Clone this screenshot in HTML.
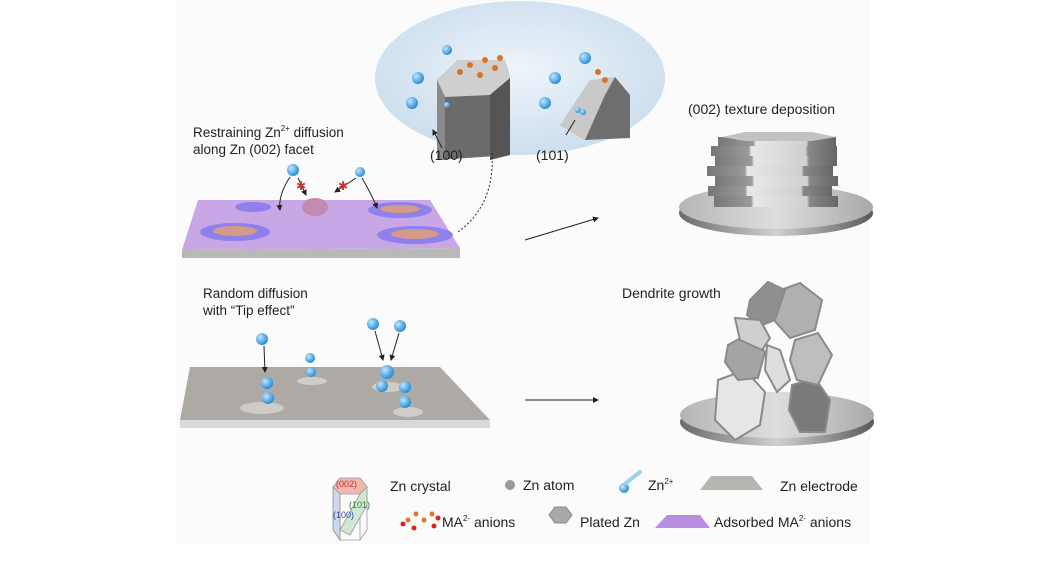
<!DOCTYPE html>
<html><head><meta charset="utf-8"><style>
html,body{margin:0;padding:0;background:#fff;}
svg{display:block;font-family:"Liberation Sans",Arial,sans-serif;}
</style></head><body>
<svg width="1053" height="562" viewBox="0 0 1053 562" xmlns="http://www.w3.org/2000/svg">
<defs>
<radialGradient id="ell" cx="50%" cy="45%" r="60%"><stop offset="0" stop-color="#eef4fa"/><stop offset="1" stop-color="#c9dcec"/></radialGradient>
<linearGradient id="disk" x1="0" x2="1"><stop offset="0" stop-color="#6a6a6a"/><stop offset="0.5" stop-color="#d0d0d0"/><stop offset="1" stop-color="#5a5a5a"/></linearGradient>
<linearGradient id="dtop" x1="0" x2="1"><stop offset="0" stop-color="#b5b5b5"/><stop offset="0.5" stop-color="#dedede"/><stop offset="1" stop-color="#a8a8a8"/></linearGradient>
<linearGradient id="hexs" x1="0" x2="1"><stop offset="0" stop-color="#777"/><stop offset="0.3" stop-color="#9a9a9a"/><stop offset="0.32" stop-color="#e8e8e8"/><stop offset="0.75" stop-color="#cfcfcf"/><stop offset="0.77" stop-color="#888"/><stop offset="1" stop-color="#666"/></linearGradient>
<radialGradient id="ball" cx="35%" cy="35%" r="65%"><stop offset="0" stop-color="#bfe6ff"/><stop offset="1" stop-color="#2a8fd6"/></radialGradient>
<marker id="ar" markerWidth="6" markerHeight="6" refX="5" refY="3" orient="auto"><path d="M0,0 L6,3 L0,6 z" fill="#222"/></marker>
</defs>
<rect x="175" y="0" width="695" height="545" fill="#fbfbfb"/>
<ellipse cx="520" cy="78" rx="145" ry="77" fill="url(#ell)"/>
<polygon points="437,80 458,60 505,60 510,78 510,155 437,160" fill="#6b6b6b"/>
<polygon points="437,80 458,60 505,60 510,78 490,95 445,97" fill="#cfcfcf"/>
<polygon points="490,95 510,78 510,155 490,160" fill="#555"/>
<polygon points="437,80 445,97 445,160 437,160" fill="#8a8a8a"/>
<polygon points="560,125 595,85 615,77 630,95 630,138 585,140" fill="#6e6e6e"/>
<polygon points="560,125 590,80 615,77 605,95 585,140" fill="#c9c9c9"/>
<g fill="#d8742a"><circle cx="470" cy="65" r="3"/><circle cx="485" cy="60" r="3"/><circle cx="495" cy="68" r="3"/><circle cx="460" cy="72" r="3"/><circle cx="480" cy="75" r="3"/><circle cx="500" cy="58" r="3"/><circle cx="598" cy="72" r="3"/><circle cx="605" cy="80" r="3"/></g>
<g fill="url(#ball)"><circle cx="447" cy="50" r="5"/><circle cx="418" cy="78" r="6"/><circle cx="412" cy="103" r="6"/><circle cx="585" cy="58" r="6"/><circle cx="555" cy="78" r="6"/><circle cx="545" cy="103" r="6"/><circle cx="447" cy="105" r="3"/><circle cx="578" cy="110" r="3"/><circle cx="583" cy="112" r="3"/></g>
<path d="M442,148 L433,130" stroke="#222" fill="none" marker-end="url(#ar)"/>
<path d="M566,135 L575,120" stroke="#222" fill="none"/>
<text x="430" y="160" font-size="14" fill="#222">(100)</text>
<text x="536" y="160" font-size="14" fill="#222">(101)</text>
<text x="193" y="137" font-size="13.5" fill="#222">Restraining Zn<tspan font-size="8" dy="-6">2+</tspan><tspan dy="6"> diffusion</tspan></text>
<text x="193" y="154" font-size="13.5" fill="#222">along Zn (002) facet</text>
<polygon points="198,200 430,200 460,248 182,250" fill="#c9a6e6"/>
<polygon points="182,250 460,248 460,258 182,258" fill="#b8b8b8"/>
<g fill="#8f80ec"><ellipse cx="253" cy="207" rx="18" ry="5"/><ellipse cx="400" cy="210" rx="32" ry="8"/><ellipse cx="235" cy="232" rx="35" ry="9"/><ellipse cx="415" cy="235" rx="38" ry="9"/></g>
<g fill="#d49a8a"><ellipse cx="400" cy="209" rx="20" ry="4"/><ellipse cx="235" cy="231" rx="22" ry="5"/><ellipse cx="415" cy="234" rx="24" ry="5"/></g>
<ellipse cx="315" cy="207" rx="13" ry="9" fill="#c38ab0"/>
<circle cx="293" cy="170" r="6" fill="url(#ball)"/><circle cx="360" cy="172" r="5" fill="url(#ball)"/>
<path d="M290,177 Q278,195 280,210" stroke="#222" fill="none" marker-end="url(#ar)"/>
<path d="M298,178 L306,195" stroke="#222" fill="none" marker-end="url(#ar)"/>
<path d="M356,178 L335,192" stroke="#222" fill="none" marker-end="url(#ar)"/>
<path d="M362,178 Q372,195 377,208" stroke="#222" fill="none" marker-end="url(#ar)"/>
<text x="296" y="190" font-size="12" fill="#c33">✱</text><text x="338" y="190" font-size="12" fill="#c33">✱</text>
<path d="M458,232 Q495,205 492,153" stroke="#222" fill="none" stroke-dasharray="2,2"/>
<path d="M525,240 L598,218" stroke="#222" fill="none" marker-end="url(#ar)"/>
<path d="M525,400 L598,400" stroke="#222" fill="none" marker-end="url(#ar)"/>
<!-- top right -->
<text x="688" y="114" font-size="14" fill="#222">(002) texture deposition</text>
<ellipse cx="776" cy="213" rx="97" ry="23" fill="url(#disk)"/>
<ellipse cx="776" cy="207" rx="97" ry="22" fill="url(#dtop)"/>
<g>
<rect x="714" y="196" width="124" height="11" fill="url(#hexs)"/>
<rect x="708" y="186" width="124" height="10" fill="url(#hexs)"/>
<rect x="715" y="176" width="123" height="10" fill="url(#hexs)"/>
<rect x="707" y="166" width="126" height="10" fill="url(#hexs)"/>
<rect x="715" y="156" width="122" height="10" fill="url(#hexs)"/>
<rect x="711" y="146" width="126" height="10" fill="url(#hexs)"/>
<rect x="718" y="137" width="118" height="9" fill="url(#hexs)"/>
</g>
<polygon points="722,137 745,132 812,132 836,137 812,141 745,141" fill="#c2c2c2"/>
<!-- bottom left slab -->
<text x="203" y="298" font-size="13.5" fill="#222">Random diffusion</text>
<text x="203" y="315" font-size="13.5" fill="#222">with “Tip effect”</text>
<polygon points="190,367 440,367 490,420 180,420" fill="#adaaa6"/>
<polygon points="180,420 490,420 490,428 180,428" fill="#d9d9d9"/>
<g fill="#cfcbc6"><ellipse cx="262" cy="408" rx="22" ry="6"/><ellipse cx="312" cy="381" rx="15" ry="4"/><ellipse cx="388" cy="387" rx="16" ry="5"/><ellipse cx="408" cy="412" rx="15" ry="5"/></g>
<g fill="url(#ball)"><circle cx="262" cy="339" r="6"/><circle cx="267" cy="383" r="6"/><circle cx="268" cy="398" r="6"/><circle cx="310" cy="358" r="5"/><circle cx="311" cy="372" r="5"/><circle cx="373" cy="324" r="6"/><circle cx="400" cy="326" r="6"/><circle cx="387" cy="372" r="7"/><circle cx="382" cy="386" r="6"/><circle cx="405" cy="387" r="6"/><circle cx="405" cy="402" r="6"/></g>
<path d="M264,346 L265,372" stroke="#222" fill="none" marker-end="url(#ar)"/>
<path d="M375,331 L383,360" stroke="#222" fill="none" marker-end="url(#ar)"/>
<path d="M399,333 L391,360" stroke="#222" fill="none" marker-end="url(#ar)"/>
<!-- bottom right -->
<text x="622" y="298" font-size="14" fill="#222">Dendrite growth</text>
<ellipse cx="777" cy="422" rx="97" ry="24" fill="url(#disk)"/>
<ellipse cx="777" cy="415" rx="97" ry="23" fill="url(#dtop)"/>
<g stroke="#8a8a8a" stroke-width="2">
<polygon points="718,380 745,370 765,392 760,425 735,440 715,420" fill="#e6e6e6"/>
<polygon points="792,385 815,378 830,400 825,432 800,432 789,410" fill="#7a7a7a"/>
<polygon points="728,345 750,333 765,352 758,378 738,380 725,362" fill="#a5a5a5"/>
<polygon points="775,292 800,283 822,300 815,330 790,338 772,318" fill="#b0b0b0"/>
<polygon points="750,300 768,282 785,290 775,320 760,326 747,315" fill="#8f8f8f"/>
<polygon points="735,318 760,320 770,338 762,350 740,340" fill="#cfcfcf"/>
<polygon points="795,340 818,333 832,355 818,385 797,380 790,360" fill="#bdbdbd"/>
<polygon points="767,345 780,350 790,380 777,392 765,370" fill="#dedede"/>
</g>
<!-- legend -->
<g stroke="#999" stroke-width="0.8" fill="none">
<polygon points="333,487 340,478 360,478 367,487 360,494 340,494" fill="#f2b8b0"/>
<polygon points="333,487 340,494 340,540 333,530" fill="#cdd8f0"/>
<path d="M333,487 V530 M367,487 V530 M340,494 V540 M360,494 V540 M333,530 L340,540 L360,540 L367,530"/>
<polygon points="340,530 360,494 367,487 367,505 350,535" fill="#cfe8d4"/>
</g>
<text x="336" y="487" font-size="9" fill="#b33">(002)</text>
<text x="349" y="508" font-size="9" fill="#3a7a3a">(101)</text>
<text x="333" y="518" font-size="9" fill="#2a4a9a">(100)</text>
<text x="390" y="491" font-size="14" fill="#222">Zn crystal</text>
<circle cx="510" cy="485" r="5" fill="#999"/>
<text x="523" y="490" font-size="14" fill="#222">Zn atom</text>
<circle cx="624" cy="488" r="5" fill="url(#ball)"/>
<path d="M626,483 L640,472" stroke="#9cd0f2" stroke-width="4" stroke-linecap="round"/>
<text x="648" y="490" font-size="14" fill="#222">Zn<tspan font-size="8" dy="-6">2+</tspan></text>
<polygon points="700,490 711,476 752,476 763,490" fill="#b7b5b1"/>
<text x="780" y="491" font-size="14" fill="#222">Zn electrode</text>
<g fill="#e0752c"><circle cx="408" cy="520" r="2.5"/><circle cx="416" cy="514" r="2.5"/><circle cx="424" cy="520" r="2.5"/><circle cx="432" cy="514" r="2.5"/></g>
<g fill="#d22"><circle cx="403" cy="524" r="2.5"/><circle cx="414" cy="528" r="2.5"/><circle cx="434" cy="526" r="2.5"/><circle cx="438" cy="518" r="2.5"/></g>
<text x="442" y="527" font-size="14" fill="#222">MA<tspan font-size="8" dy="-6">2-</tspan><tspan dy="6"> anions</tspan></text>
<polygon points="549,515 555,507 566,507 572,515 566,523 555,523" fill="#a8a8a8" stroke="#888"/>
<text x="580" y="527" font-size="14" fill="#222">Plated Zn</text>
<polygon points="655,528 667,515 700,515 710,528" fill="#b88ee0"/>
<text x="714" y="527" font-size="14" fill="#222">Adsorbed MA<tspan font-size="8" dy="-6">2-</tspan><tspan dy="6"> anions</tspan></text>
</svg>
</body></html>
